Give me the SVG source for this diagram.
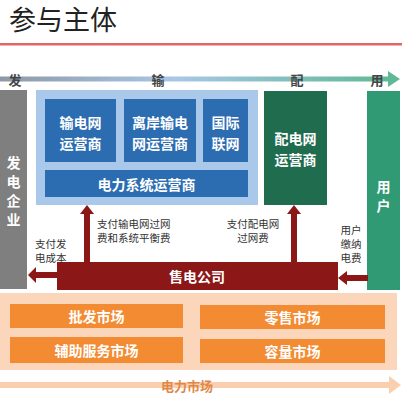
<svg xmlns="http://www.w3.org/2000/svg" width="402" height="402" viewBox="0 0 402 402">
<defs>
<linearGradient id="topg" x1="0" y1="0" x2="1" y2="0">
<stop offset="0" stop-color="#8e99a6"/>
<stop offset="0.45" stop-color="#a9c7e6"/>
<stop offset="1" stop-color="#5fb896"/>
</linearGradient>
<style>
.t{font-family:"Noto Sans CJK SC","Noto Sans",sans-serif;}
.w{fill:#fff;font-size:14px;font-weight:bold;text-anchor:middle;dominant-baseline:central;}
.lab{fill:#333;font-size:10.5px;text-anchor:start;dominant-baseline:central;}
.lc{fill:#333;font-size:10.5px;text-anchor:middle;dominant-baseline:central;}
.st{fill:#444;font-size:13px;font-weight:bold;text-anchor:middle;dominant-baseline:central;}
.dark{fill:#2c6db1;}
.red{fill:#8b1717;}
.org{fill:#f28b32;}
</style>
</defs>
<rect width="402" height="402" fill="#fff"/>
<text class="t" x="9" y="30" font-size="27" fill="#222">参与主体</text>
<rect x="0" y="43" width="402" height="2.5" fill="#e06767"/>

<g id="stage-arrow">
<rect x="0" y="76.5" width="390" height="5" fill="url(#topg)"/>
<polygon points="388,71 400,79 388,87" fill="#5fb896"/>
<text class="t st" x="15" y="79">发</text>
<text class="t st" x="158" y="79">输</text>
<text class="t st" x="297" y="79">配</text>
<text class="t st" x="377" y="79">用</text>
</g>

<g id="gen">
<rect x="0" y="90" width="27" height="199" fill="#7f7f7f"/>
<text class="t w" x="13.5" y="162">发</text>
<text class="t w" x="13.5" y="181">电</text>
<text class="t w" x="13.5" y="200">企</text>
<text class="t w" x="13.5" y="219">业</text>
</g>

<g id="trans-group">
<rect x="36" y="90" width="222" height="115" fill="#a9c8ea"/>
</g>
<g id="tso">
<rect class="dark" x="45" y="99" width="71" height="63"/>
<text class="t w" x="80.5" y="121.5">输电网</text>
<text class="t w" x="80.5" y="142.5">运营商</text>
</g>
<g id="offshore">
<rect class="dark" x="124" y="99" width="72" height="63"/>
<text class="t w" x="160" y="121.5">离岸输电</text>
<text class="t w" x="160" y="142.5">网运营商</text>
</g>
<g id="interconn">
<rect class="dark" x="203" y="99" width="45" height="63"/>
<text class="t w" x="225.5" y="121.5">国际</text>
<text class="t w" x="225.5" y="142.5">联网</text>
</g>
<g id="so">
<rect class="dark" x="45" y="170" width="203" height="27"/>
<text class="t w" x="146.5" y="184">电力系统运营商</text>
</g>

<g id="dso">
<rect x="264" y="91" width="63" height="114" fill="#1f6c4e"/>
<text class="t w" x="295.5" y="137.5">配电网</text>
<text class="t w" x="295.5" y="158.5">运营商</text>
</g>

<g id="user">
<rect x="367" y="91" width="33" height="199" fill="#2f9a73"/>
<text class="t w" x="383.5" y="186">用</text>
<text class="t w" x="383.5" y="205">户</text>
</g>

<g id="supplier">
<rect class="red" x="57" y="262" width="281" height="28"/>
<text class="t w" x="197" y="276">售电公司</text>
</g>

<g id="connectors">
<rect class="red" x="84" y="213" width="6" height="50"/>
<polygon class="red" points="80,214 94,214 87,205"/>
<rect class="red" x="291" y="213" width="6" height="50"/>
<polygon class="red" points="287,214 301,214 294,205"/>
<rect class="red" x="35" y="272" width="23" height="6"/>
<polygon class="red" points="28,275 36,267 36,283"/>
<rect class="red" x="346" y="275" width="22" height="6"/>
<polygon class="red" points="338,278 347,271 347,285"/>
<text class="t lab" x="97" y="223">支付输电网过网</text>
<text class="t lab" x="97" y="237">费和系统平衡费</text>
<text class="t lab" x="35" y="243">支付发</text>
<text class="t lab" x="35" y="257">电成本</text>
<text class="t lc" x="253" y="223">支付配电网</text>
<text class="t lc" x="253" y="237">过网费</text>
<text class="t lc" x="351" y="229">用户</text>
<text class="t lc" x="351" y="243">缴纳</text>
<text class="t lc" x="351" y="257">电费</text>
</g>

<g id="market">
<rect x="0" y="293" width="397" height="77" fill="#fbd6ba"/>
</g>
<g id="wholesale">
<rect class="org" x="10" y="304" width="173" height="24"/>
<text class="t w" x="96.5" y="316">批发市场</text>
</g>
<g id="ancillary">
<rect class="org" x="10" y="337" width="173" height="26"/>
<text class="t w" x="96.5" y="350">辅助服务市场</text>
</g>
<g id="retail">
<rect class="org" x="200" y="305" width="185" height="24"/>
<text class="t w" x="292.5" y="317">零售市场</text>
</g>
<g id="capacity">
<rect class="org" x="200" y="339" width="185" height="24"/>
<text class="t w" x="292.5" y="351">容量市场</text>
</g>

<g id="market-arrow">
<rect x="0" y="382" width="392" height="6" fill="#f9cfae"/>
<polygon points="389,376 401,385 389,394" fill="#f9cfae"/>
<text class="t lc" x="187" y="385" style="font-size:13px;fill:#e0884a;font-weight:bold">电力市场</text>
</g>
</svg>
